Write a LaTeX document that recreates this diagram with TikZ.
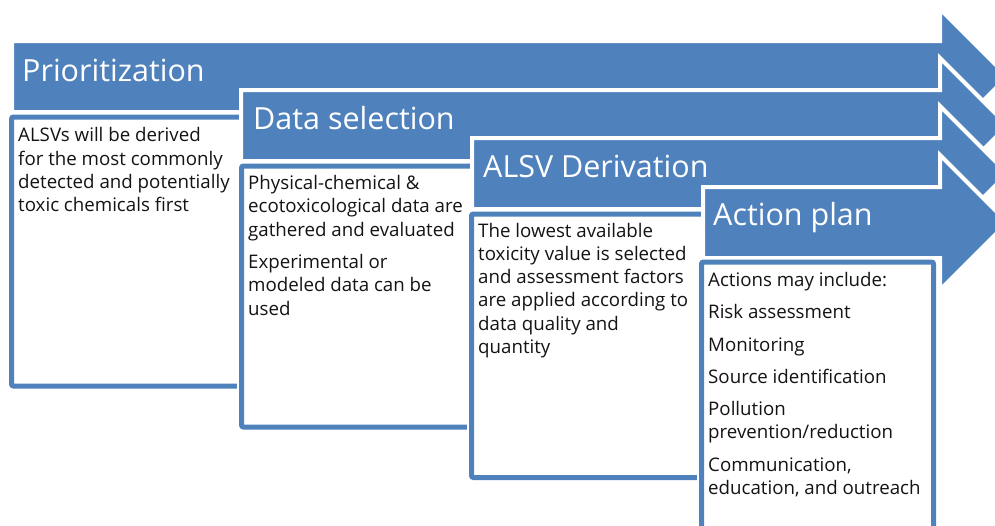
\documentclass[tikz,border=0pt]{standalone}
\usepackage{fontspec}
\setmainfont{Open Sans}
\definecolor{stepblue}{RGB}{79,129,189}
\definecolor{bodyink}{RGB}{20,20,20}

% One staggered process arrow: #1 = left edge, #2 = top edge of the shaft
\newcommand{\stagearrow}[2]{%
  \path[banner] (#1,#2) -- (940,#2) -- (940,#2-32) -- (1007.5,#2+35.5)
    -- (940,#2+103) -- (940,#2+71) -- (#1,#2+71) -- cycle;}

% One white card with a blue frame: corners (#1,#2) and (#3,#4)
\newcommand{\stagecard}[4]{%
  \draw[halo] (#1,#2) rectangle (#3,#4);
  \draw[card] (#1,#2) rectangle (#3,#4);}

\begin{document}
\begin{tikzpicture}[x=1pt,y=-1pt,
  banner/.style={fill=stepblue, draw=white, line width=4pt, line join=miter},
  halo/.style={draw=white, line width=9pt, rounded corners=3pt},
  card/.style={fill=white, draw=stepblue, line width=5pt, rounded corners=2pt},
  headtext/.style={anchor=base west, inner sep=0pt, text=white,
    font=\fontsize{30.5}{36}\selectfont},
  % multi-line texts are placed by the baseline of their last line
  bodytext/.style={anchor=base west, inner sep=0pt, align=left, text=bodyink,
    font=\fontsize{18.7}{23.3}\selectfont}]
\useasboundingbox (0,0) rectangle (995,525);
\clip (0,0) rectangle (995,525);

% Step 1
\stagearrow{12}{41}
\node[headtext] (prio) at (22,81) {Prioritization};
\stagecard{11.5}{117}{243.5}{386}
\node[bodytext] (prioText) at (18,211.6)
  {ALSVs will be derived\\for the most commonly\\detected and potentially\\toxic chemicals first};

% Step 2
\stagearrow{241}{90}
\node[headtext] (data) at (253,129) {Data selection};
\stagecard{241.5}{166}{473.5}{427}
\node[bodytext] (dataText) at (248,315)
  {Physical-chemical \&\\ecotoxicological data are\\gathered and evaluated\\[9pt]Experimental or\\modeled data can be\\used};

% Step 3
\stagearrow{472}{138}
\node[headtext] (deriv) at (483,177) {ALSV Derivation};
\stagecard{471.5}{214}{703.5}{477.5}
\node[bodytext] (derivText) at (478,353.5)
  {The lowest available\\toxicity value is selected\\and assessment factors\\are applied according to\\data quality and\\quantity};

% Step 4
\stagearrow{703}{187}
\node[headtext] (plan) at (713,225) {Action plan};
\stagecard{701.5}{262}{933.5}{545}
\node[bodytext] (planText) at (708,494.5)
  {Actions may include:\\[9pt]Risk assessment\\[9pt]Monitoring\\[9pt]Source identification\\[9pt]Pollution\\prevention/reduction\\[9pt]Communication,\\education, and outreach};
\end{tikzpicture}
\end{document}
